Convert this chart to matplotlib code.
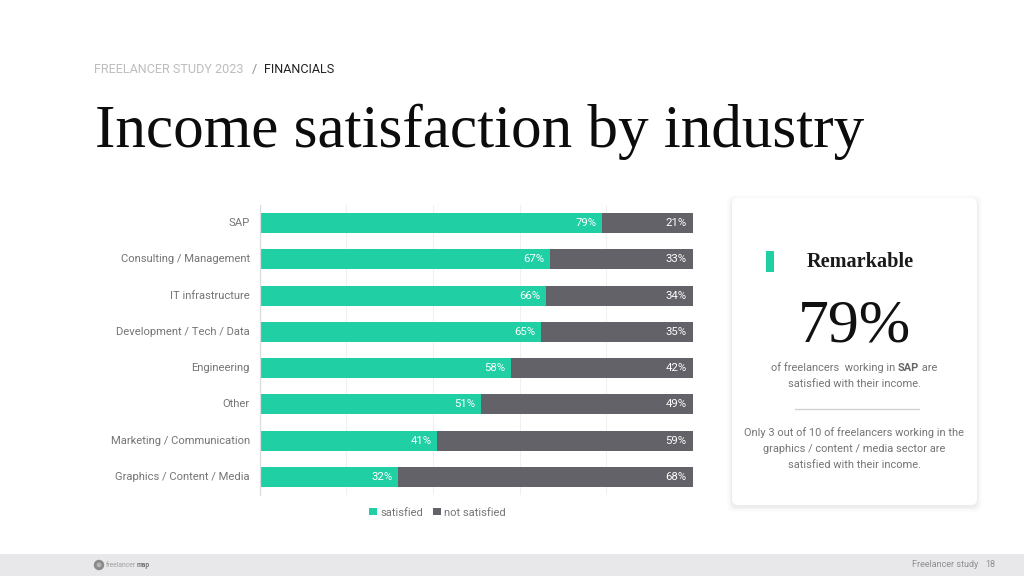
import matplotlib
matplotlib.use("Agg")
import matplotlib.pyplot as plt
from matplotlib.patches import FancyBboxPatch, Rectangle, Circle
from matplotlib.transforms import ScaledTranslation
import numpy as np

categories = ["SAP", "Consulting / Management", "IT infrastructure", "Development / Tech / Data",
              "Engineering", "Other", "Marketing / Communication", "Graphics / Content / Media"]
satisfied = [79, 67, 66, 65, 58, 51, 41, 32]
not_satisfied = [21, 33, 34, 35, 42, 49, 59, 68]

GREEN = "#21cfa5"
DARK = "#636268"
GREY = "#757575"
SANS = "Roboto"
SERIF = "Liberation Serif"
W, H = 1024, 576

fig = plt.figure(figsize=(W / 100, H / 100), dpi=100, facecolor="white")
rend = fig.canvas.get_renderer()

# page overlay in pixel coordinates
bg = fig.add_axes([0, 0, 1, 1], zorder=0)
bg.set_xlim(0, W); bg.set_ylim(H, 0); bg.axis("off")

# footer
bg.add_patch(Rectangle((0, 554), W, 22, fc="#e8e8ea", ec="none"))
bg.add_patch(Circle((99, 565), 5.2, fc="#8a8a8a", ec="none"))
bg.add_patch(Circle((99, 565), 2.4, fc="#b5b5b5", ec="none"))
logo = bg.text(106, 565.3, "freelancer", fontsize=4.9, color="#a0a0a0", family=SANS, va="center")
bg.text(106 + logo.get_window_extent(rend).width + 0.5, 565.3, "map", fontsize=4.9, color="#777777",
        family=SANS, weight="bold", va="center")
bg.text(978, 564.5, "Freelancer study", fontsize=6.5, color="#8e8e8e", family=SANS, ha="right", va="center")
bg.text(995, 564.5, "18", fontsize=6.5, color="#8e8e8e", family=SANS, ha="right", va="center")

# heading
bg.text(94, 69.5, "FREELANCER STUDY 2023", fontsize=9.1, color="#bdbdbd", family=SANS, va="center")
bg.text(252, 69.5, "/", fontsize=9.1, color="#8a8a8a", family=SANS, va="center")
bg.text(264, 69.5, "FINANCIALS", fontsize=9.1, color="#222222", family=SANS, va="center")
bg.text(95, 147, "Income satisfaction by industry", fontsize=44, color="#0c0c0c", family=SERIF, va="baseline")

# card with soft shadow
for grow, a in [(5, 0.012), (3.5, 0.016), (2, 0.02), (1, 0.025)]:
    bg.add_patch(FancyBboxPatch((732 - grow, 198 - grow + 2), 245 + 2 * grow, 307 + 2 * grow,
                                boxstyle="round,pad=0,rounding_size=7", fc="black", ec="none", alpha=a))
bg.add_patch(FancyBboxPatch((732, 198), 245, 307, boxstyle="round,pad=0,rounding_size=6", fc="white", ec="none"))
bg.add_patch(Rectangle((766, 251), 7.5, 21, fc=GREEN, ec="none"))
bg.text(860.5, 262, "Remarkable", fontsize=14.6, weight="bold", color="#1a1a1a", family=SERIF, ha="center", va="center")
bg.text(854, 341, "79%", fontsize=44.5, color="#111111", family=SERIF, ha="center", va="baseline")
body = dict(fontsize=7.9, color=GREY, family=SANS, va="center")
# mixed-weight line assembled from measured widths
parts = [("of freelancers  working in ", "normal", GREY), ("SAP", "bold", "#666666"), (" are", "normal", GREY)]
items = []
for s, w, c in parts:
    kw = dict(body); kw["color"] = c
    items.append(bg.text(0, 368, s.replace(" ", "\u00a0"), weight=w, **kw))
widths = [i.get_window_extent(rend).width for i in items]
x = 854 - sum(widths) / 2
for i, wd in zip(items, widths):
    i.set_x(x); x += wd
bg.text(854, 384, "satisfied with their income.", ha="center", **body)
bg.plot([795, 919], [409, 409], color="#cfcfcf", lw=0.9)
bg.text(854.5, 433, "Only 3 out of 10 of freelancers working in the", ha="center", **body)
bg.text(854, 449, "graphics / content / media sector are", ha="center", **body)
bg.text(854, 465, "satisfied with their income.", ha="center", **body)

# chart
ax = fig.add_axes([259.5 / W, 1 - 495 / H, 433.5 / W, 290 / H], zorder=1)
ax.patch.set_alpha(0)
y = np.arange(len(categories))
ax.barh(y, satisfied, height=0.55, color=GREEN, label="satisfied", zorder=2)
ax.barh(y, not_satisfied, left=satisfied, height=0.55, color=DARK, label="not satisfied", zorder=2)
ax.set_xlim(0, 100)
ax.set_ylim(len(categories) - 0.5, -0.5)
ax.set_yticks(y, categories, fontsize=8.1, color=GREY, family=SANS)
ax.set_xticks([0, 20, 40, 60, 80, 100], [])
ax.tick_params(length=0, pad=9.5)
ax.tick_params(axis="y", pad=7)
up = ScaledTranslation(0, 1 / 100, fig.dpi_scale_trans)
for lab in ax.get_yticklabels():
    lab.set_transform(lab.get_transform() + up)
ax.grid(axis="x", color="#f0f0f0", lw=0.8, zorder=0)
for s in ("top", "right", "bottom"):
    ax.spines[s].set_visible(False)
ax.spines["left"].set_color("#dcdcdc")
ax.spines["left"].set_linewidth(0.9)
for i, (a, b) in enumerate(zip(satisfied, not_satisfied)):
    ax.text(a - 1.3, i, f"{a}%", color="white", fontsize=8.2, family=SANS, ha="right", va="center", zorder=3)
    ax.text(98.5, i, f"{b}%", color="white", fontsize=8.2, family=SANS, ha="right", va="center", zorder=3)

fig.legend(*ax.get_legend_handles_labels(), loc="center", bbox_to_anchor=(437.5 / W, 1 - 512.5 / H),
           ncol=2, frameon=False, handlelength=0.7, handleheight=0.6, handletextpad=0.3,
           columnspacing=0.95, labelcolor=GREY, prop={"family": SANS, "size": 8})

fig.savefig("out.png", dpi=100)
